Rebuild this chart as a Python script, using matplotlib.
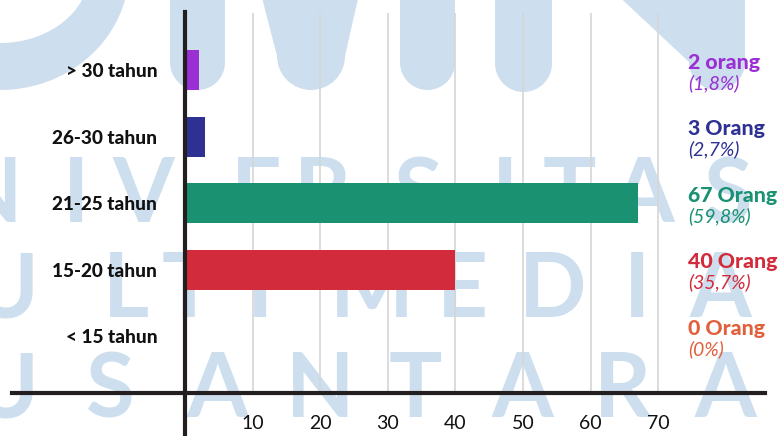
import matplotlib
matplotlib.use("Agg")
import numpy as np
import matplotlib.pyplot as plt
from matplotlib.patches import Polygon, Circle
from matplotlib.lines import Line2D

# ---- data (bottom to top) ----
categories = ["< 15 tahun", "15-20 tahun", "21-25 tahun", "26-30 tahun", "> 30 tahun"]
counts = [0, 40, 67, 3, 2]
count_words = ["Orang", "Orang", "Orang", "Orang", "orang"]
colors = ["#e0603c", "#d22b3c", "#1a9171", "#2e3192", "#9a2fd4"]
x_ticks = [10, 20, 30, 40, 50, 60, 70]

total = sum(counts)

def pct_text(v):
    if v == 0:
        return "(0%)"
    return "(" + f"{v / total * 100:.1f}".replace(".", ",") + "%)"

# ---- figure in pixel units ----
W, H = 783, 436
fig = plt.figure(figsize=(W / 100, H / 100), dpi=100)
fig.patch.set_facecolor("white")

# background layer with the university watermark
bg = fig.add_axes([0, 0, 1, 1], zorder=0)
bg.set_xlim(0, W)
bg.set_ylim(H, 0)
bg.axis("off")
wm = "#cddfee"

# large logo shapes along the top edge
t = np.linspace(0, np.pi / 2, 60)
outer = np.column_stack([129 * np.cos(t), -30 + 120 * np.sin(t)])
inner = np.column_stack([90 * np.cos(t), -30 + 73 * np.sin(t)])[::-1]
ring = np.vstack([outer, [[-40, 90]], [[-40, 43]], inner])
bg.add_patch(Polygon(ring, closed=True, color=wm, lw=0))

def stem(xc, width, bottom):
    r = width / 2
    bg.add_patch(Polygon([[xc - r, -10], [xc + r, -10], [xc + r, bottom - r], [xc - r, bottom - r]],
                         closed=True, color=wm, lw=0))
    bg.add_patch(Circle((xc, bottom - r), r, color=wm, lw=0))

stem(197.5, 55, 90)
stem(427.5, 55, 90)
stem(523.5, 57, 92)
bg.add_patch(Polygon([[260, -10], [360, -10], [345, 56], [277, 56]], closed=True, color=wm, lw=0))
bg.add_patch(Circle((311, 56), 34, color=wm, lw=0))
bg.add_patch(Polygon([[612, -10], [745, -10], [745, 62], [689, 62]], closed=True, color=wm, lw=0))
bg.add_patch(Circle((717, 62), 28, color=wm, lw=0))

rows = [
    ("NIVERSITAS", [-12, 76, 143, 256, 322, 418, 505, 569, 643, 728], 222),
    ("ULTIMEDIA", [6, 126, 188, 260, 372, 462, 553, 637, 720], 317),
    ("USANTARA", [6, 110, 217, 320, 415, 522, 622, 725], 417),
]
for letters, xs, base in rows:
    for ch, xc in zip(letters, xs):
        bg.text(xc, base, ch, ha="center", va="baseline", color=wm,
                fontsize=64, family="Lato", fontweight="bold")

# ---- main chart axes ----
x0_px, unit_px = 185.0, 6.76          # x = 0 position and pixels per unit
top_px, bottom_px = 13.0, 392.7
mid_px, step_px = 203.3, 66.55        # centre of category 2, spacing between rows
xmax = 85
right_px = x0_px + xmax * unit_px
ax = fig.add_axes([x0_px / W, (H - bottom_px) / H, (right_px - x0_px) / W, (bottom_px - top_px) / H],
                  zorder=1)
ax.patch.set_alpha(0)
ax.set_xlim(0, xmax)
ax.set_ylim(2 + (mid_px - bottom_px) / step_px, 2 + (mid_px - top_px) / step_px)

ypos = np.arange(len(categories))
ax.barh(ypos, counts, height=40 / step_px, color=colors, zorder=2)

ax.set_xticks(x_ticks)
ax.set_xticklabels([str(v) for v in x_ticks], family="Lato", fontsize=14, color="#111111")
ax.set_yticks(ypos)
ax.set_yticklabels(categories, family="Lato", fontweight="black", fontsize=13.7, color="#111111")
ax.tick_params(axis="x", length=0, pad=16)
ax.tick_params(axis="y", length=0, pad=20)
ax.xaxis.grid(True, color="#d6d6d6", lw=1.2, zorder=0)
ax.set_axisbelow(True)
for s in ax.spines.values():
    s.set_visible(False)

# axis lines extending past the plotting area
axis_col = "#231f20"
ax.add_line(Line2D([(12 - x0_px) / (right_px - x0_px), (765 - x0_px) / (right_px - x0_px)], [0, 0],
                   transform=ax.transAxes, color=axis_col, lw=3, clip_on=False, zorder=5))
ax.add_line(Line2D([0, 0], [1 + 1 / (bottom_px - top_px), -(H - bottom_px) / (bottom_px - top_px)],
                   transform=ax.transAxes, color=axis_col, lw=3, clip_on=False, zorder=5))

# value labels to the right of the chart
lab_x = (688 - x0_px) / unit_px
for y, v, word, c in zip(ypos, counts, count_words, colors):
    ax.text(lab_x, y + 1.5 / step_px, f"{v} {word}", color=c, fontsize=15.3, family="Lato",
            fontweight="black", ha="left", va="baseline", clip_on=False)
    ax.text(lab_x, y - 18.5 / step_px, pct_text(v), color=c, fontsize=14, family="Lato",
            style="italic", ha="left", va="baseline", clip_on=False)

fig.savefig("out.png", dpi=100, facecolor="white")
